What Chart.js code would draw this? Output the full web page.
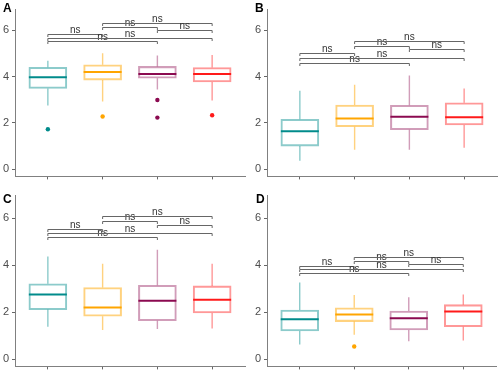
<!DOCTYPE html>
<html>
<head>
<meta charset="utf-8">
<script src="https://cdn.jsdelivr.net/npm/chart.js@4.4.1/dist/chart.umd.min.js"></script>
<style>
  body { margin: 0; background: #fff; }
  #wrap { position: relative; width: 500px; height: 376px; overflow: hidden; }
  .panel { position: absolute; }
  .tag { position: absolute; font: bold 12px "Liberation Sans", Arial, sans-serif; line-height: 12px; color: #000; z-index: 2; }
</style>
</head>
<body>
<div id="wrap">
  <div class="panel" style="left:0;top:0"><canvas id="chartA" width="250" height="186"></canvas></div>
  <div class="panel" style="left:250px;top:0"><canvas id="chartB" width="250" height="186"></canvas></div>
  <div class="panel" style="left:0;top:186px"><canvas id="chartC" width="250" height="190"></canvas></div>
  <div class="panel" style="left:250px;top:186px"><canvas id="chartD" width="250" height="190"></canvas></div>
  <div class="tag" style="left:3px;top:2px">A</div>
  <div class="tag" style="left:255px;top:2px">B</div>
  <div class="tag" style="left:3px;top:193px">C</div>
  <div class="tag" style="left:256px;top:193px">D</div>
</div>
<script>
// group positions on the x axis (no labels shown)
var cats = [1, 2, 3, 4];
var yTicks = [0, 2, 4, 6];

// pairwise comparisons and their labels
var comparisons = [[1, 2], [1, 3], [1, 4], [2, 3], [2, 4], [3, 4]];
var pLabels = ['ns', 'ns', 'ns', 'ns', 'ns', 'ns'];

// box stats per group: [min, q1, median, q3, max]
var boxA = [[2.75, 3.49, 3.97, 4.40, 4.68], [2.92, 3.85, 4.20, 4.51, 5.01], [3.44, 3.93, 4.11, 4.44, 4.91], [2.97, 3.77, 4.11, 4.39, 4.93]];
var outA = [[1.73], [2.28], [2.99, 2.23], [2.33]];
var brkA = [5.85, 5.52, 5.68, 6.16, 6.32, 6.00];

var boxB = [[0.37, 1.00, 1.64, 2.16, 3.39], [0.84, 1.84, 2.19, 2.77, 3.65], [0.84, 1.71, 2.27, 2.76, 4.05], [0.93, 1.91, 2.24, 2.87, 3.49]];
var outB = [[], [], [], []];
var brkB = [5.00, 4.60, 4.80, 5.34, 5.53, 5.17];

var boxC = [[1.38, 2.11, 2.75, 3.21, 4.37], [1.24, 1.83, 2.20, 3.05, 4.06], [1.28, 1.64, 2.49, 3.15, 4.66], [1.31, 1.97, 2.53, 3.12, 4.06]];
var outC = [[], [], [], []];
var brkC = [5.54, 5.19, 5.36, 5.89, 6.08, 5.72];

var boxD = [[0.62, 1.20, 1.70, 2.09, 3.27], [1.04, 1.60, 1.90, 2.19, 2.73], [0.76, 1.24, 1.74, 2.05, 2.64], [0.79, 1.38, 2.03, 2.32, 2.75]];
var outD = [[], [0.54], [], []];
var brkD = [3.95, 3.67, 3.83, 4.19, 4.35, 4.06];

var medColors = ['#008B8B', '#FFA500', '#8B0A50', '#FF1A1A'];
var boxColors = ['rgba(0,139,139,0.45)', 'rgba(255,165,0,0.5)', 'rgba(139,10,80,0.4)', 'rgba(255,26,26,0.45)'];
var FONT = '"Liberation Sans", Arial, sans-serif';
var BOX_W = 38;

// whiskers, medians and significance brackets
var boxExtras = {
    id: 'boxExtras',
    afterDatasetsDraw: function (chart) {
        var c = chart.ctx, xs = chart.scales.x, ys = chart.scales.y;
        var box = chart.options.plugins.boxExtras.box;
        c.save();
        box.forEach(function (b, i) {
            var px = xs.getPixelForValue(cats[i]);
            c.strokeStyle = boxColors[i];
            c.lineWidth = 1.4;
            c.beginPath();
            c.moveTo(px, ys.getPixelForValue(b[4]));
            c.lineTo(px, ys.getPixelForValue(b[3]));
            c.moveTo(px, ys.getPixelForValue(b[1]));
            c.lineTo(px, ys.getPixelForValue(b[0]));
            c.stroke();
            c.strokeStyle = medColors[i];
            c.lineWidth = 2;
            var my = ys.getPixelForValue(b[2]);
            c.beginPath();
            c.moveTo(px - BOX_W / 2, my);
            c.lineTo(px + BOX_W / 2, my);
            c.stroke();
        });
        c.restore();
    },
    afterDraw: function (chart) {
        var c = chart.ctx, xs = chart.scales.x, ys = chart.scales.y;
        var brk = chart.options.plugins.boxExtras.brackets;
        c.save();
        c.strokeStyle = '#666';
        c.lineWidth = 1;
        c.fillStyle = '#333';
        c.font = '10px ' + FONT;
        c.textAlign = 'center';
        c.textBaseline = 'alphabetic';
        comparisons.forEach(function (pair, k) {
            var x1 = xs.getPixelForValue(pair[0]);
            var x2 = xs.getPixelForValue(pair[1]);
            var y = Math.round(ys.getPixelForValue(brk[k])) + 0.5;
            c.beginPath();
            c.moveTo(x1, y + 2.5);
            c.lineTo(x1, y);
            c.lineTo(x2, y);
            c.lineTo(x2, y + 2.5);
            c.stroke();
            c.fillText(pLabels[k], (x1 + x2) / 2, y - 1.5);
        });
        c.restore();
    }
};

function makePanel(id, box, outliers, brackets, yMin, yMax, yWidth, padRight, padTop) {
    var outPts = [];
    outliers.forEach(function (arr, i) {
        arr.forEach(function (v) { outPts.push({ x: cats[i], y: v, c: medColors[i] }); });
    });
    var ctx = document.getElementById(id).getContext('2d');
    return new Chart(ctx, {
        type: 'bar',
        data: {
            datasets: [{
                type: 'bar',
                data: box.map(function (b, i) { return { x: cats[i], y: [b[1], b[3]] }; }),
                backgroundColor: 'rgba(255,255,255,0)',
                borderColor: boxColors,
                borderWidth: 1.4,
                borderSkipped: false,
                barThickness: BOX_W
            }, {
                type: 'scatter',
                data: outPts,
                pointRadius: 2.2,
                pointBorderWidth: 0,
                pointBackgroundColor: function (c) { return c.raw ? c.raw.c : '#000'; }
            }]
        },
        options: {
            responsive: false,
            animation: false,
            layout: { padding: { left: 0, right: padRight, top: padTop, bottom: 0 } },
            plugins: {
                legend: { display: false },
                tooltip: { enabled: false },
                boxExtras: { box: box, brackets: brackets }
            },
            scales: {
                x: {
                    type: 'linear',
                    min: 0.4,
                    max: 4.6,
                    offset: false,
                    afterBuildTicks: function (s) { s.ticks = cats.map(function (v) { return { value: v }; }); },
                    ticks: { callback: function () { return ''; }, padding: 0, autoSkip: false },
                    grid: { offset: false, drawOnChartArea: false, tickLength: 3, color: '#666' },
                    border: { display: true, color: '#808080', width: 1 },
                    afterFit: function (s) { s.height = 6; }
                },
                y: {
                    min: yMin,
                    max: yMax,
                    afterBuildTicks: function (s) { s.ticks = yTicks.map(function (v) { return { value: v }; }); },
                    ticks: { font: { size: 11, family: FONT }, color: '#4d4d4d', padding: 3 },
                    grid: { drawOnChartArea: false, tickLength: 3, color: '#666' },
                    border: { display: true, color: '#808080', width: 1 },
                    afterFit: function (s) { s.width = yWidth; }
                }
            }
        },
        plugins: [boxExtras]
    });
}

makePanel('chartA', boxA, outA, brkA, -0.308, 6.892, 15, 5, 0);
makePanel('chartB', boxB, outB, brkB, -0.308, 6.892, 17, 3, 0);
makePanel('chartC', boxC, outC, brkC, -0.31, 6.97, 15, 5, 4);
makePanel('chartD', boxD, outD, brkD, -0.31, 6.97, 17, 3, 4);
</script>
</body>
</html>
